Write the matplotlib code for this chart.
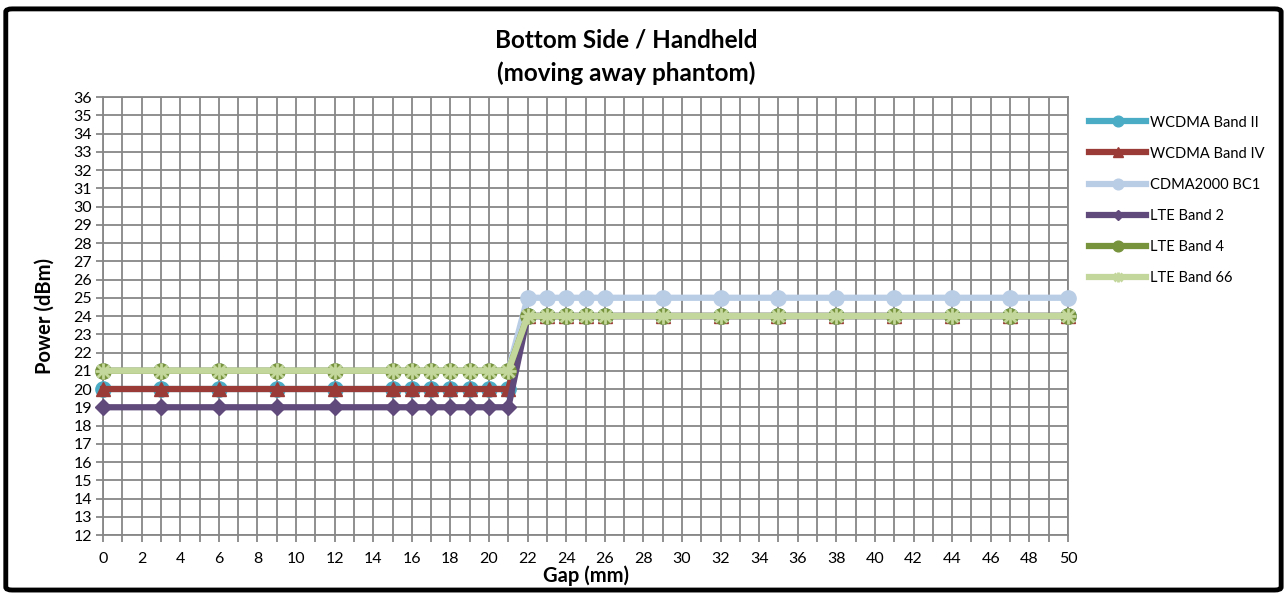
import matplotlib.pyplot as plt
from matplotlib.patches import FancyBboxPatch

gap = [0, 3, 6, 9, 12, 15, 16, 17, 18, 19, 20, 21, 22, 23, 24, 25, 26, 29, 32, 35, 38, 41, 44, 47, 50]
wcdma_2 = [20] * 12 + [24] * 13
wcdma_4 = [20] * 12 + [24] * 13
cdma_bc1 = [21] * 12 + [25] * 13
lte_2 = [19] * 12 + [24] * 13
lte_4 = [21] * 12 + [24] * 13
lte_66 = [21] * 12 + [24] * 13

series = [
    ("WCDMA Band II", wcdma_2, "#4BACC6", "o", 11),
    ("WCDMA Band IV", wcdma_4, "#9B3B37", "^", 10),
    ("CDMA2000 BC1", cdma_bc1, "#B9CDE5", "o", 11),
    ("LTE Band 2", lte_2, "#604A7B", "D", 8),
    ("LTE Band 4", lte_4, "#77933C", "o", 11),
    ("LTE Band 66", lte_66, "#C3D69B", "*", 0),
]

plt.rcParams['font.family'] = ['Lato', 'DejaVu Sans']

fig = plt.figure(figsize=(12.85, 5.93), dpi=100)
ax = fig.add_axes([0.0802, 0.0978, 0.7509, 0.7386])

handles = []
labels = []
for name, vals, color, marker, ms in series:
    if marker == "*":
        # excel style star: an x over a plus
        l1, = ax.plot(gap, vals, color=color, lw=4.5, clip_on=False, zorder=3)
        l2, = ax.plot(gap, vals, ls="none", marker="x", ms=9, mew=2, color=color, clip_on=False, zorder=3)
        l3, = ax.plot(gap, vals, ls="none", marker="+", ms=11, mew=2, color=color, clip_on=False, zorder=3)
        handles.append((l1, l2, l3))
    else:
        l1, = ax.plot(gap, vals, color=color, lw=4.5, marker=marker, ms=ms, mec=color,
                      clip_on=False, zorder=3)
        handles.append(l1)
    labels.append(name)

ax.set_xlim(0, 50)
ax.set_ylim(12, 36)
ax.set_xticks(range(0, 51, 2))
ax.set_xticks(range(0, 51), minor=True)
ax.set_yticks(range(12, 37))
ax.grid(True, which="both", color="#878787", lw=1.3)
ax.set_axisbelow(True)
for s in ax.spines.values():
    s.set_color("#878787")
    s.set_linewidth(1.3)
ax.tick_params(axis="both", which="both", color="#878787", width=1.3, length=5,
               labelsize=11.5, colors="#878787", labelcolor="black")
ax.tick_params(axis="x", which="both", pad=7)
ax.tick_params(axis="y", pad=3)

ax.set_xlabel("Gap (mm)", fontsize=14.5, fontweight="bold", labelpad=0)
ax.set_ylabel("Power (dBm)", fontsize=14.5, fontweight="bold", labelpad=13)
fig.text(0.487, 0.932, "Bottom Side / Handheld", fontsize=17.5, fontweight="bold",
         ha="center", va="center")
fig.text(0.487, 0.877, "(moving away phantom)", fontsize=17.5, fontweight="bold",
         ha="center", va="center")

leg = fig.legend(handles, labels, loc="upper left", bbox_to_anchor=(0.843, 0.815),
                 frameon=False, fontsize=10.5, handlelength=3.9, handletextpad=0.25,
                 labelspacing=1.17, markerscale=0.7, borderaxespad=0)

border = FancyBboxPatch((0.0045, 0.005), 0.9925, 0.98, boxstyle="round,pad=0,rounding_size=0.005",
                        transform=fig.transFigure, fill=False, edgecolor="black", lw=3.5)
fig.patches.append(border)

fig.savefig("out.png", dpi=100)
